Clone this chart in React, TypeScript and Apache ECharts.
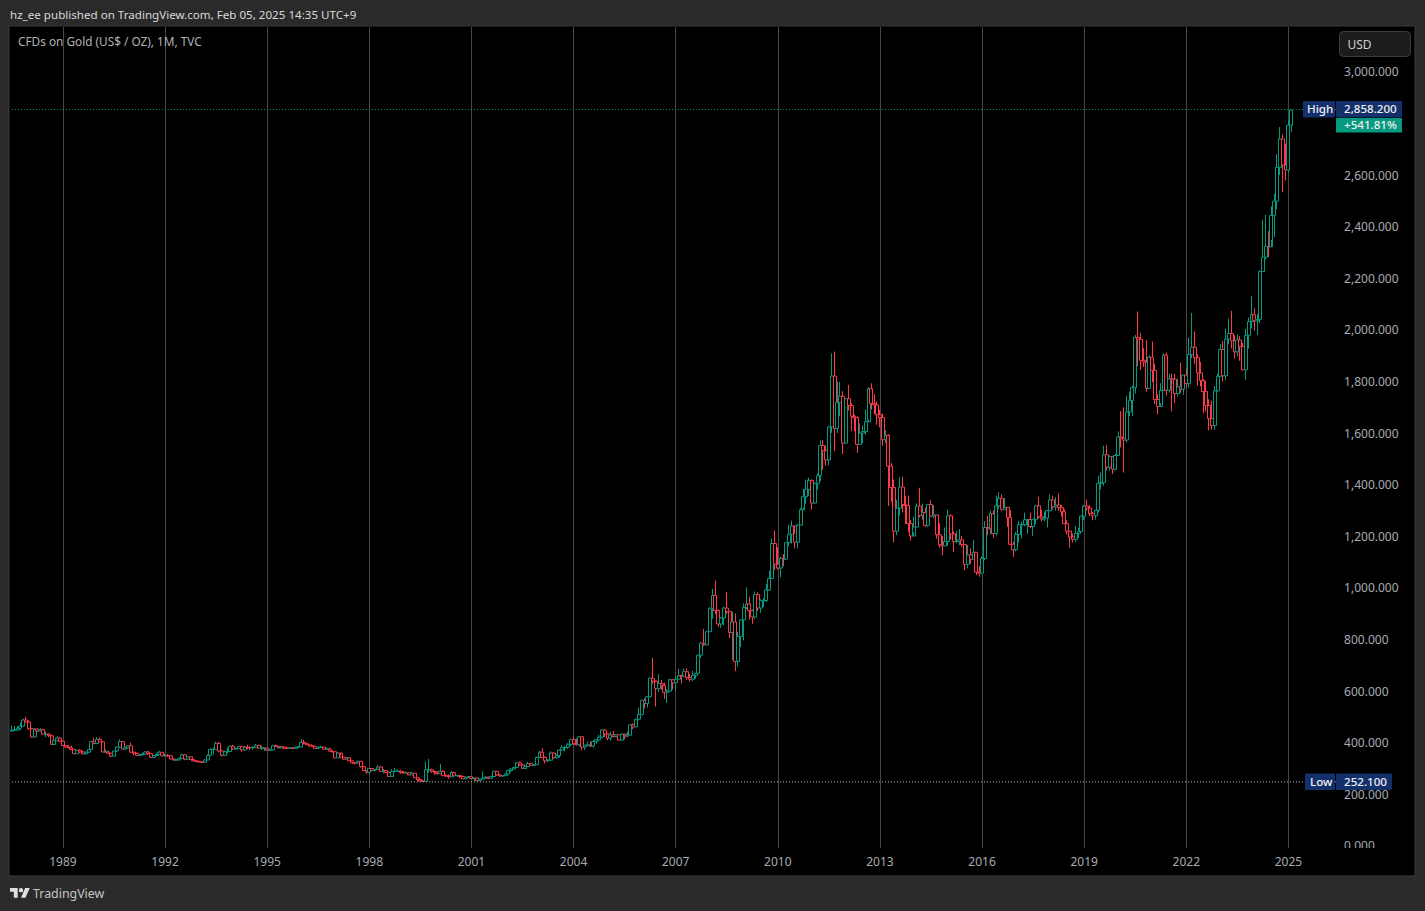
import React, { useEffect, useRef } from "react";
import * as echarts from "echarts";

const logoPath = "M14 25H7V14H0V7h14v18zM28 25h-8L27.5 7H36l-8 18zM20 7a4 4 0 1 1 0 8a4 4 0 1 1 0-8z";
echarts.graphic.registerShape("tvlogo", echarts.graphic.extendPath(logoPath, {}));

const yTicks = [0, 200, 400, 600, 800, 1000, 1200, 1400, 1600, 1800, 2000, 2200, 2400, 2600, 3000];
const yearLabels = ["1989", "1992", "1995", "1998", "2001", "2004", "2007", "2010", "2013", "2016", "2019", "2022", "2025"];

const opens = [
  449, 453, 453, 460, 468, 492,
  484, 458, 426, 457, 449, 455, 437, 437, 431, 397, 412, 422,
  410, 393, 387, 384, 378, 361, 375, 368, 361, 367, 378, 408,
  401, 417, 407, 368, 368, 363, 352, 372, 387, 408, 379, 384,
  392, 367, 363, 355, 357, 360, 368, 362, 347, 354, 358, 367,
  353, 354, 353, 341, 337, 337, 343, 357, 340, 349, 339, 334,
  332, 330, 328, 337, 355, 378, 378, 401, 372, 355, 369, 370,
  390, 380, 381, 389, 376, 387, 385, 384, 385, 394, 383, 383,
  383, 375, 376, 392, 389, 384, 387, 383, 382, 384, 382, 387,
  387, 405, 400, 396, 391, 390, 382, 385, 387, 379, 379, 371,
  369, 345, 364, 348, 340, 345, 334, 326, 325, 332, 311, 296,
  290, 304, 297, 301, 310, 293, 296, 288, 273, 293, 293, 294,
  288, 287, 287, 279, 286, 268, 261, 255, 254, 299, 299, 292,
  290, 284, 293, 276, 275, 272, 288, 276, 277, 273, 264, 270,
  272, 265, 267, 257, 263, 267, 270, 266, 273, 293, 279, 275,
  276, 282, 296, 302, 308, 326, 318, 304, 312, 323, 316, 319,
  347, 367, 347, 334, 336, 364, 346, 354, 375, 385, 386, 398,
  416, 400, 396, 427, 387, 394, 395, 391, 408, 415, 425, 453,
  438, 422, 434, 428, 435, 414, 437, 429, 433, 473, 465, 495,
  513, 568, 556, 582, 654, 643, 613, 633, 626, 599, 604, 648,
  636, 650, 664, 662, 679, 657, 650, 665, 673, 743, 789, 783,
  834, 923, 975, 916, 864, 887, 926, 912, 831, 872, 719, 816,
  880, 928, 942, 916, 891, 978, 926, 954, 955, 996, 1040, 1176,
  1096, 1081, 1118, 1115, 1179, 1212, 1244, 1181, 1247, 1307, 1357, 1386,
  1421, 1333, 1409, 1439, 1556, 1536, 1500, 1628, 1825, 1622, 1722, 1747,
  1565, 1737, 1711, 1669, 1664, 1560, 1604, 1610, 1648, 1776, 1719, 1713,
  1675, 1664, 1578, 1595, 1476, 1393, 1224, 1313, 1395, 1327, 1323, 1253,
  1205, 1240, 1321, 1284, 1296, 1246, 1327, 1282, 1287, 1210, 1171, 1167,
  1184, 1283, 1213, 1183, 1184, 1190, 1172, 1095, 1132, 1115, 1142, 1065,
  1061, 1118, 1238, 1233, 1292, 1215, 1322, 1351, 1309, 1316, 1277, 1173,
  1152, 1211, 1249, 1249, 1268, 1269, 1242, 1270, 1322, 1280, 1271, 1275,
  1303, 1345, 1318, 1325, 1315, 1299, 1253, 1224, 1201, 1192, 1215, 1222,
  1282, 1321, 1313, 1292, 1283, 1305, 1409, 1413, 1520, 1472, 1513, 1464,
  1517, 1589, 1585, 1577, 1686, 1730, 1780, 1975, 1968, 1886, 1879, 1777,
  1898, 1847, 1734, 1707, 1769, 1906, 1770, 1814, 1813, 1757, 1783, 1774,
  1829, 1796, 1909, 1937, 1896, 1837, 1807, 1765, 1711, 1660, 1633, 1768,
  1824, 1928, 1826, 1969, 1990, 1962, 1919, 1965, 1940, 1849, 1983, 2036,
  2063, 2039, 2044, 2230, 2286, 2327, 2326, 2447, 2503, 2634, 2744, 2643,
  2624, 2797,
];

const closes = [
  453, 453, 460, 468, 492, 484,
  458, 426, 457, 449, 455, 437, 437, 431, 397, 412, 422, 410,
  393, 387, 384, 378, 361, 375, 368, 361, 367, 378, 408, 401,
  417, 407, 368, 368, 363, 352, 372, 387, 408, 379, 384, 392,
  367, 363, 355, 357, 360, 368, 362, 347, 354, 358, 367, 353,
  354, 353, 341, 337, 337, 343, 357, 340, 349, 339, 334, 332,
  330, 328, 337, 355, 378, 378, 401, 372, 355, 369, 370, 390,
  380, 381, 389, 376, 387, 385, 384, 385, 394, 383, 383, 383,
  375, 376, 392, 389, 384, 387, 383, 382, 384, 382, 387, 387,
  405, 400, 396, 391, 390, 382, 385, 387, 379, 379, 371, 369,
  345, 364, 348, 340, 345, 334, 326, 325, 332, 311, 296, 290,
  304, 297, 301, 310, 293, 296, 288, 273, 293, 293, 294, 288,
  287, 287, 279, 286, 268, 261, 255, 254, 299, 299, 292, 290,
  284, 293, 276, 275, 272, 288, 276, 277, 273, 264, 270, 272,
  265, 267, 257, 263, 267, 270, 266, 273, 293, 279, 275, 276,
  282, 296, 302, 308, 326, 318, 304, 312, 323, 316, 319, 347,
  367, 347, 334, 336, 364, 346, 354, 375, 385, 386, 398, 416,
  400, 396, 427, 387, 394, 395, 391, 408, 415, 425, 453, 438,
  422, 434, 428, 435, 414, 437, 429, 433, 473, 465, 495, 513,
  568, 556, 582, 654, 643, 613, 633, 626, 599, 604, 648, 636,
  650, 664, 662, 679, 657, 650, 665, 673, 743, 789, 783, 834,
  923, 975, 916, 864, 887, 926, 912, 831, 872, 719, 816, 880,
  928, 942, 916, 891, 978, 926, 954, 955, 996, 1040, 1176, 1096,
  1081, 1118, 1115, 1179, 1212, 1244, 1181, 1247, 1307, 1357, 1386, 1421,
  1333, 1409, 1439, 1556, 1536, 1500, 1628, 1825, 1622, 1722, 1747, 1565,
  1737, 1711, 1669, 1664, 1560, 1604, 1610, 1648, 1776, 1719, 1713, 1675,
  1664, 1578, 1595, 1476, 1393, 1224, 1313, 1395, 1327, 1323, 1253, 1205,
  1240, 1321, 1284, 1296, 1246, 1327, 1282, 1287, 1210, 1171, 1167, 1184,
  1283, 1213, 1183, 1184, 1190, 1172, 1095, 1132, 1115, 1142, 1065, 1061,
  1118, 1238, 1233, 1292, 1215, 1322, 1351, 1309, 1316, 1277, 1173, 1152,
  1211, 1249, 1249, 1268, 1269, 1242, 1270, 1322, 1280, 1271, 1275, 1303,
  1345, 1318, 1325, 1315, 1299, 1253, 1224, 1201, 1192, 1215, 1222, 1282,
  1321, 1313, 1292, 1283, 1305, 1409, 1413, 1520, 1472, 1513, 1464, 1517,
  1589, 1585, 1577, 1686, 1730, 1780, 1975, 1968, 1886, 1879, 1777, 1898,
  1847, 1734, 1707, 1769, 1906, 1770, 1814, 1813, 1757, 1783, 1774, 1829,
  1796, 1909, 1937, 1896, 1837, 1807, 1765, 1711, 1660, 1633, 1768, 1824,
  1928, 1826, 1969, 1990, 1962, 1919, 1965, 1940, 1849, 1983, 2036, 2063,
  2039, 2044, 2230, 2286, 2327, 2326, 2447, 2503, 2634, 2744, 2643, 2624,
  2797, 2856,
];

const highs = [
  471, 469, 468, 482, 497, 504,
  490, 460, 460, 458, 460, 458, 447, 441, 431, 413, 428, 424,
  412, 394, 394, 393, 378, 376, 378, 373, 371, 378, 412, 423,
  425, 424, 408, 378, 373, 364, 372, 390, 416, 409, 387, 393,
  404, 369, 365, 360, 364, 371, 372, 362, 355, 363, 372, 367,
  361, 360, 354, 342, 340, 346, 362, 358, 351, 350, 340, 336,
  334, 333, 339, 359, 382, 385, 408, 408, 375, 373, 384, 393,
  396, 385, 391, 389, 390, 396, 390, 391, 398, 394, 392, 384,
  385, 381, 396, 396, 392, 390, 391, 390, 387, 386, 389, 391,
  418, 416, 404, 396, 394, 390, 390, 392, 387, 385, 386, 373,
  368, 367, 355, 349, 348, 348, 335, 329, 334, 333, 311, 298,
  305, 305, 302, 316, 311, 301, 298, 291, 301, 307, 300, 298,
  294, 293, 290, 291, 287, 268, 263, 260, 331, 341, 304, 296,
  293, 322, 297, 283, 281, 294, 289, 279, 278, 276, 272, 276,
  272, 270, 267, 266, 293, 274, 272, 277, 294, 295, 282, 278,
  284, 300, 306, 310, 327, 331, 320, 315, 330, 326, 321, 350,
  373, 383, 351, 340, 371, 367, 359, 377, 395, 392, 402, 417,
  427, 420, 431, 428, 395, 408, 409, 415, 418, 434, 456, 456,
  439, 445, 449, 437, 435, 441, 431, 447, 476, 479, 497, 541,
  569, 576, 584, 657, 733, 639, 670, 647, 636, 612, 652, 646,
  661, 690, 668, 692, 692, 671, 683, 674, 744, 795, 845, 837,
  930, 1000, 1033, 921, 891, 931, 988, 913, 912, 905, 833, 880,
  944, 1006, 968, 920, 990, 987, 960, 964, 1019, 1070, 1195, 1227,
  1162, 1125, 1135, 1180, 1249, 1265, 1213, 1250, 1313, 1388, 1424, 1431,
  1424, 1412, 1447, 1576, 1577, 1556, 1632, 1913, 1920, 1804, 1803, 1766,
  1740, 1791, 1720, 1676, 1669, 1641, 1633, 1695, 1782, 1797, 1755, 1726,
  1695, 1680, 1616, 1600, 1488, 1424, 1345, 1434, 1435, 1361, 1362, 1267,
  1280, 1332, 1392, 1331, 1315, 1326, 1345, 1324, 1287, 1255, 1205, 1238,
  1307, 1290, 1223, 1224, 1232, 1205, 1172, 1170, 1157, 1191, 1142, 1088,
  1127, 1263, 1283, 1304, 1304, 1362, 1375, 1367, 1352, 1318, 1304, 1182,
  1220, 1264, 1261, 1296, 1270, 1296, 1270, 1325, 1357, 1306, 1300, 1306,
  1366, 1361, 1356, 1369, 1325, 1309, 1266, 1225, 1214, 1243, 1237, 1284,
  1326, 1347, 1324, 1298, 1306, 1439, 1452, 1555, 1557, 1518, 1516, 1523,
  1611, 1689, 1704, 1747, 1765, 1789, 1984, 2075, 1992, 1933, 1965, 1906,
  1959, 1872, 1755, 1798, 1913, 1916, 1834, 1834, 1834, 1814, 1877, 1830,
  1854, 1974, 2070, 1998, 1909, 1879, 1814, 1807, 1735, 1730, 1786, 1833,
  1949, 1960, 2009, 2048, 2078, 1984, 1987, 1980, 1953, 2009, 2052, 2135,
  2088, 2065, 2235, 2431, 2450, 2387, 2483, 2531, 2685, 2790, 2761, 2726,
  2817, 2858.2,
];

const lows = [
  447, 449, 451, 454, 466, 481,
  455, 424, 424, 446, 447, 436, 425, 425, 395, 397, 410, 406,
  393, 383, 382, 376, 360, 361, 365, 359, 358, 364, 376, 397,
  398, 407, 367, 366, 360, 347, 351, 368, 384, 379, 377, 382,
  366, 355, 352, 353, 354, 356, 356, 346, 346, 353, 357, 352,
  350, 350, 340, 335, 334, 337, 342, 336, 339, 339, 331, 327,
  326, 326, 326, 336, 354, 358, 378, 366, 350, 352, 362, 369,
  376, 375, 379, 369, 373, 378, 376, 377, 384, 383, 376, 372,
  372, 372, 374, 387, 382, 383, 381, 381, 380, 381, 381, 383,
  387, 398, 395, 388, 389, 380, 380, 385, 378, 378, 371, 366,
  345, 345, 346, 337, 340, 334, 321, 319, 321, 308, 295, 283,
  282, 293, 292, 300, 293, 285, 287, 273, 273, 289, 291, 284,
  285, 285, 278, 279, 268, 256, 252.1, 252.5, 254, 288, 288, 279,
  281, 284, 276, 272, 264, 272, 276, 271, 268, 263, 264, 268,
  263, 254, 255, 255, 263, 267, 263, 264, 271, 276, 272, 271,
  276, 282, 289, 301, 308, 314, 302, 304, 312, 313, 317, 318,
  346, 347, 324, 329, 336, 342, 342, 345, 373, 370, 380, 391,
  396, 393, 389, 375, 376, 391, 387, 385, 399, 412, 424, 426,
  414, 412, 425, 425, 414, 414, 417, 428, 433, 456, 464, 490,
  512, 537, 540, 581, 632, 544, 601, 610, 574, 558, 604, 610,
  604, 649, 634, 658, 648, 641, 643, 652, 674, 733, 778, 784,
  835, 884, 902, 853, 849, 858, 902, 810, 724, 681, 699, 775,
  801, 920, 880, 865, 884, 915, 908, 930, 949, 992, 1044, 1075,
  1075, 1045, 1088, 1115, 1165, 1176, 1157, 1157, 1246, 1315, 1330, 1360,
  1308, 1330, 1385, 1418, 1462, 1478, 1479, 1605, 1534, 1604, 1669, 1523,
  1564, 1691, 1611, 1611, 1527, 1560, 1565, 1597, 1656, 1695, 1677, 1636,
  1626, 1555, 1566, 1321, 1338, 1180, 1208, 1285, 1296, 1251, 1221, 1187,
  1220, 1239, 1277, 1268, 1241, 1241, 1281, 1274, 1194, 1160, 1131, 1166,
  1167, 1191, 1142, 1178, 1170, 1162, 1072, 1080, 1098, 1115, 1053, 1047,
  1062, 1112, 1208, 1210, 1199, 1207, 1310, 1301, 1305, 1241, 1171, 1124,
  1146, 1180, 1196, 1243, 1214, 1236, 1205, 1251, 1272, 1261, 1263, 1238,
  1303, 1307, 1303, 1302, 1281, 1251, 1211, 1160, 1180, 1182, 1196, 1221,
  1266, 1303, 1281, 1266, 1268, 1296, 1386, 1400, 1459, 1459, 1445, 1459,
  1517, 1548, 1451, 1567, 1670, 1670, 1757, 1863, 1849, 1860, 1765, 1775,
  1802, 1717, 1677, 1720, 1770, 1750, 1761, 1688, 1721, 1746, 1759, 1753,
  1780, 1780, 1895, 1872, 1787, 1785, 1681, 1688, 1615, 1617, 1616, 1765,
  1824, 1804, 1809, 1949, 1932, 1893, 1903, 1884, 1848, 1810, 1931, 2010,
  2001, 1984, 2030, 2229, 2277, 2286, 2353, 2364, 2471, 2604, 2537, 2583,
  2614, 2772,
];

const highValue = 2858.2;
const lowValue = 252.1;

const months: string[] = [];
for (let y = 1987; y <= 2026; y++) {
  for (let m = 1; m <= 12; m++) {
    if (y === 1987 && m < 7) continue;
    if (months.length >= 468) continue;
    months.push(`${y}-${String(m).padStart(2, "0")}`);
  }
}

const FONT = "Noto Sans";
const candleData = opens.map((o, i) => [o, closes[i], lows[i], highs[i]]);

const badge = (x: number, y: number, w: number, h: number, fill: string, text: string, tx: number) => [
  { type: "rect", z: 20, shape: { x, y, width: w, height: h, r: 1 }, style: { fill } },
  {
    type: "text", z: 21, x: tx, y: y + h / 2 - 0.5,
    style: { text, fill: "#f0f0f0", font: `500 11.6px "${FONT}"`, verticalAlign: "middle" },
  },
];

const levelLine = (name: string, value: number, color: string, dash: number[]) => ({
  type: "line",
  name,
  silent: true,
  symbol: "none",
  z: 5,
  lineStyle: { color, type: dash, width: 1, opacity: 1 },
  data: [
    [months[0], value],
    [months[months.length - 1], value],
  ],
});

const isYearTick = (_: number, v: string) => v.endsWith("-01") && yearLabels.includes(v.slice(0, 4));

export default function App() {
  const ref = useRef<HTMLDivElement>(null);
  useEffect(() => {
    const chart = echarts.init(ref.current!, undefined, { renderer: "svg" });
    chart.setOption({
      animation: false,
      backgroundColor: "#2a2a2a",
      grid: { left: 10.5, top: 27, width: 1327.6, height: 821 },
      xAxis: {
        type: "category",
        data: months,
        boundaryGap: true,
        axisLine: { show: false },
        axisTick: { show: false },
        axisLabel: {
          interval: isYearTick,
          formatter: (v: string) => v.slice(0, 4),
          color: "#a8abb2",
          fontFamily: FONT,
          fontSize: 12,
          margin: 7,
        },
        splitLine: {
          show: true,
          alignWithLabel: true,
          interval: isYearTick,
          lineStyle: { color: "#474747", width: 1 },
        },
      },
      yAxis: {
        type: "value",
        position: "right",
        min: -4.2,
        max: 3177.96,
        axisLine: { show: false },
        axisTick: { show: false },
        splitLine: { show: false },
        axisLabel: {
          customValues: yTicks,
          margin: 6,
          color: "#a8abb2",
          fontFamily: FONT,
          fontSize: 12,
          align: "left",
          verticalAlign: "bottom",
          lineHeight: 2,
          formatter: (v: number) =>
            v.toLocaleString("en-US", { minimumFractionDigits: 3, maximumFractionDigits: 3 }),
        },
      },
      series: [
        {
          type: "candlestick",
          data: candleData,
          barWidth: 3.5,
          clip: false,
          itemStyle: {
            color: "#000000",
            color0: "#000000",
            borderColor: "#089981",
            borderColor0: "#ff3b4b",
            borderWidth: 1,
          },
        },
        levelLine("High", highValue, "#089981", [1, 2]),
        levelLine("Low", lowValue, "#b8b8b8", [1, 2]),
      ],
      graphic: [
        { type: "rect", z: -10, shape: { x: 9, y: 26, width: 1406, height: 850 }, style: { fill: "#000", stroke: "#3a3a3a", lineWidth: 1 } },
        { type: "rect", z: 15, shape: { x: 1340, y: 848, width: 70, height: 6 }, style: { fill: "#000" } },
        { type: "text", z: 20, x: 10, y: 14, style: { text: "hz_ee published on TradingView.com, Feb 05, 2025 14:35 UTC+9", fill: "#d8d8d8", font: `11.6px "${FONT}"`, verticalAlign: "middle" } },
        { type: "text", z: 20, x: 18, y: 41, style: { text: "CFDs on Gold (US$ / OZ), 1M, TVC", fill: "#b2b2b2", font: `11.8px "${FONT}"`, verticalAlign: "middle" } },
        { type: "rect", z: 20, shape: { x: 1339.5, y: 31.5, width: 71, height: 25, r: 4 }, style: { fill: "#1c1c1c", stroke: "#3c3c3c", lineWidth: 1 } },
        { type: "text", z: 21, x: 1347.5, y: 44.5, style: { text: "USD", fill: "#d0d0d0", font: `12px "${FONT}"`, verticalAlign: "middle" } },
        ...badge(1303, 101, 32, 16.5, "#14306b", "High", 1307),
        ...badge(1336, 101, 66, 16.5, "#14306b", "2,858.200", 1344),
        ...badge(1336, 118, 66, 14.5, "#089981", "+541.81%", 1344),
        ...badge(1305, 773.5, 30, 16.5, "#14306b", "Low", 1310),
        ...badge(1336, 773.5, 56, 16.5, "#14306b", "252.100", 1344),
        { type: "tvlogo", z: 20, x: 10, y: 884.1, scaleX: 0.55, scaleY: 0.55, style: { fill: "#e0e0e0" } },
        { type: "text", z: 20, x: 33, y: 893, style: { text: "TradingView", fill: "#c4c4c4", font: `12.4px "${FONT}"`, verticalAlign: "middle" } },
      ],
    });
    return () => chart.dispose();
  }, []);
  return <div ref={ref} style={{ position: "fixed", left: 0, top: 0, width: 1425, height: 911 }} />;
}
